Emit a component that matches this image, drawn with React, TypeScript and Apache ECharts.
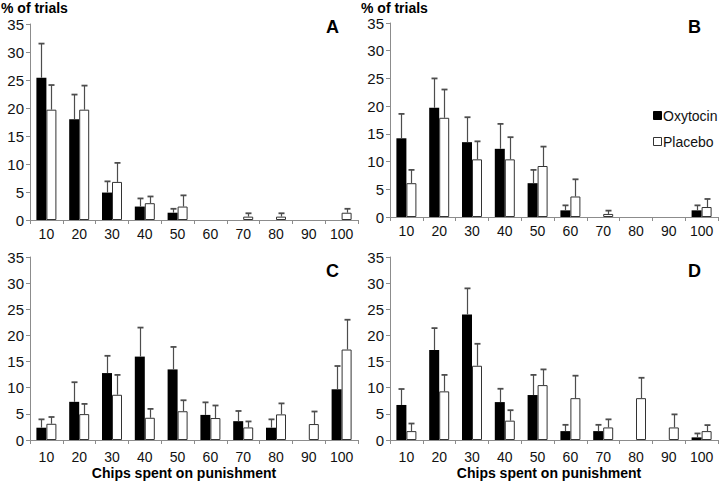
import React, { useEffect, useRef } from 'react';
import * as echarts from 'echarts';

const categories = ['10', '20', '30', '40', '50', '60', '70', '80', '90', '100'];
const seriesNames = ['Oxytocin', 'Placebo'];
const panelLetters = ['A', 'B', 'C', 'D'];
const yAxisTitle = '% of trials';
const xAxisTitle = 'Chips spent on punishment';

// Panel A
const aOxytocin = [25.4, 18.0, 4.9, 2.4, 1.3, 0, 0, 0, 0, 0];
const aOxytocinErr = [6.1, 4.4, 2.0, 1.45, 0.7, 0, 0, 0, 0, 0];
const aPlacebo = [19.7, 19.7, 6.8, 3.0, 2.4, 0, 0.6, 0.6, 0, 1.3];
const aPlaceboErr = [4.4, 4.3, 3.4, 1.2, 2.0, 0, 0.6, 0.6, 0, 0.7];

// Panel B
const bOxytocin = [14.2, 19.7, 13.5, 12.3, 6.1, 1.2, 0, 0, 0, 1.2];
const bOxytocinErr = [4.4, 5.3, 4.5, 4.5, 2.4, 0.9, 0, 0, 0, 0.9];
const bPlacebo = [6.1, 17.9, 10.4, 10.4, 9.2, 3.7, 0.55, 0, 0, 1.8];
const bPlaceboErr = [2.4, 5.1, 3.25, 4.0, 3.5, 3.1, 0.6, 0, 0, 1.45];

// Panel C
const cOxytocin = [2.35, 7.3, 12.8, 15.95, 13.5, 4.8, 3.6, 2.35, 0, 9.7];
const cOxytocinErr = [1.6, 3.75, 3.3, 5.55, 4.3, 2.4, 1.95, 1.6, 0, 4.45];
const cPlacebo = [3.1, 4.95, 8.65, 4.25, 5.5, 4.2, 2.4, 4.9, 3.05, 17.3];
const cPlaceboErr = [1.3, 1.95, 3.8, 1.7, 2.1, 2.4, 1.15, 2.1, 2.4, 5.7];

// Panel D
const dOxytocin = [6.7, 17.2, 24.0, 7.25, 8.6, 1.7, 1.7, 0, 0, 0.5];
const dOxytocinErr = [3.05, 4.2, 5.0, 2.55, 3.85, 1.2, 1.2, 0, 0, 0.75];
const dPlacebo = [1.7, 9.3, 14.2, 3.7, 10.5, 8.0, 2.4, 8.0, 2.4, 1.7];
const dPlaceboErr = [1.45, 3.15, 4.2, 2.0, 3.0, 4.3, 1.55, 3.9, 2.5, 1.15];

const FONT = '"Liberation Sans", Arial, Helvetica, sans-serif';
const BAR_W = 10;
const AXIS_COLOR = '#8c8c8c';
const ERR_COLOR = '#4d4d4d';
const TEXT_COLOR = '#111';

export default function App() {
  const ref = useRef<HTMLDivElement>(null);

  useEffect(() => {
    if (!ref.current) return;
    const chart = echarts.init(ref.current, null, { renderer: 'svg' });

    const panels = [
      { oxy: aOxytocin, oxyErr: aOxytocinErr, plc: aPlacebo, plcErr: aPlaceboErr, grid: { left: 30, top: 24, width: 328, height: 196 }, labelMargin: 7 },
      { oxy: bOxytocin, oxyErr: bOxytocinErr, plc: bPlacebo, plcErr: bPlaceboErr, grid: { left: 390, top: 23, width: 328, height: 194 }, labelMargin: 7 },
      { oxy: cOxytocin, oxyErr: cOxytocinErr, plc: cPlacebo, plcErr: cPlaceboErr, grid: { left: 30, top: 257, width: 328, height: 183 }, labelMargin: 10 },
      { oxy: dOxytocin, oxyErr: dOxytocinErr, plc: dPlacebo, plcErr: dPlaceboErr, grid: { left: 390, top: 257, width: 328, height: 183 }, labelMargin: 10 },
    ];

    const errSeries = (gi: number, means: number[], errs: number[], sign: number) => ({
      type: 'custom',
      xAxisIndex: gi,
      yAxisIndex: gi,
      silent: true,
      z: 5,
      data: means.map((m, i) => [i, m, errs[i]]),
      renderItem: (_params: any, api: any) => {
        const e = api.value(2);
        if (!e) return null;
        const base = api.coord([api.value(0), api.value(1)]);
        const top = api.coord([api.value(0), api.value(1) + e]);
        const x = Math.round(base[0] + (sign * BAR_W) / 2) + 0.5;
        return {
          type: 'group',
          children: [
            { type: 'line', shape: { x1: x, y1: base[1], x2: x, y2: top[1] }, style: { stroke: ERR_COLOR, lineWidth: 1.2 } },
            { type: 'line', shape: { x1: x - 3, y1: top[1], x2: x + 3, y2: top[1] }, style: { stroke: ERR_COLOR, lineWidth: 1.8 } },
          ],
        };
      },
    });

    const series: any[] = [];
    panels.forEach((p, gi) => {
      series.push({
        type: 'bar',
        name: seriesNames[0],
        xAxisIndex: gi,
        yAxisIndex: gi,
        data: p.oxy,
        barWidth: BAR_W,
        barGap: '0%',
        itemStyle: { color: '#000', borderWidth: 0 },
        silent: true,
      });
      series.push({
        type: 'bar',
        name: seriesNames[1],
        xAxisIndex: gi,
        yAxisIndex: gi,
        data: p.plc.map((v) => (v === 0 ? { value: v, itemStyle: { borderWidth: 0 } } : v)),
        barWidth: BAR_W,
        barGap: '0%',
        itemStyle: { color: '#fff', borderColor: '#333', borderWidth: 1 },
        silent: true,
      });
      series.push(errSeries(gi, p.oxy, p.oxyErr, -1));
      series.push(errSeries(gi, p.plc, p.plcErr, 1));
    });

    const letterPos = [
      { x: 326, y: 28 },
      { x: 688, y: 28 },
      { x: 326, y: 272 },
      { x: 688, y: 272 },
    ];

    const graphic: any[] = [];
    panelLetters.forEach((l, i) => {
      graphic.push({
        type: 'text',
        left: letterPos[i].x,
        top: letterPos[i].y - 10,
        style: { text: l, font: `bold 18px ${FONT}`, fill: '#000' },
      });
    });
    [0, 360].forEach((x) => {
      graphic.push({
        type: 'text',
        left: x + 1,
        top: 1,
        style: { text: yAxisTitle, font: `bold 14px ${FONT}`, fill: '#000' },
      });
    });
    [184, 549].forEach((cx) => {
      graphic.push({
        type: 'text',
        x: cx,
        y: 473,
        style: { text: xAxisTitle, font: `bold 14px ${FONT}`, fill: '#000', align: 'center', verticalAlign: 'middle' },
      });
    });
    // legend (panel B)
    graphic.push({ type: 'rect', shape: { x: 653.5, y: 111.5, width: 8, height: 8 }, style: { fill: '#000', stroke: '#000', lineWidth: 1 } });
    graphic.push({ type: 'text', x: 663, y: 116, style: { text: seriesNames[0], font: `14px ${FONT}`, fill: TEXT_COLOR, verticalAlign: 'middle' } });
    graphic.push({ type: 'rect', shape: { x: 653.5, y: 137.5, width: 8, height: 8 }, style: { fill: '#fff', stroke: '#333', lineWidth: 1 } });
    graphic.push({ type: 'text', x: 663, y: 142, style: { text: seriesNames[1], font: `14px ${FONT}`, fill: TEXT_COLOR, verticalAlign: 'middle' } });

    const option: any = {
      animation: false,
      backgroundColor: '#fff',
      textStyle: { fontFamily: FONT },
      grid: panels.map((p) => ({ ...p.grid, containLabel: false })),
      xAxis: panels.map((p, gi) => ({
        type: 'category',
        gridIndex: gi,
        data: categories,
        boundaryGap: true,
        axisLine: { show: true, lineStyle: { color: AXIS_COLOR, width: 1 } },
        axisTick: { show: true, alignWithLabel: false, length: 4, lineStyle: { color: AXIS_COLOR } },
        axisLabel: { fontSize: 14, color: TEXT_COLOR, margin: p.labelMargin, fontFamily: FONT, interval: 0 },
        splitLine: { show: false },
      })),
      yAxis: panels.map((_p, gi) => ({
        type: 'value',
        gridIndex: gi,
        min: 0,
        max: 35,
        interval: 5,
        axisLine: { show: true, lineStyle: { color: AXIS_COLOR, width: 1 } },
        axisTick: { show: true, length: 4, lineStyle: { color: AXIS_COLOR } },
        axisLabel: { fontSize: 15, color: TEXT_COLOR, margin: 6, fontFamily: FONT },
        splitLine: { show: false },
      })),
      series,
      graphic,
    };

    chart.setOption(option);
    return () => chart.dispose();
  }, []);

  return <div ref={ref} style={{ position: 'fixed', left: 0, top: 0, width: 720, height: 484 }} />;
}
